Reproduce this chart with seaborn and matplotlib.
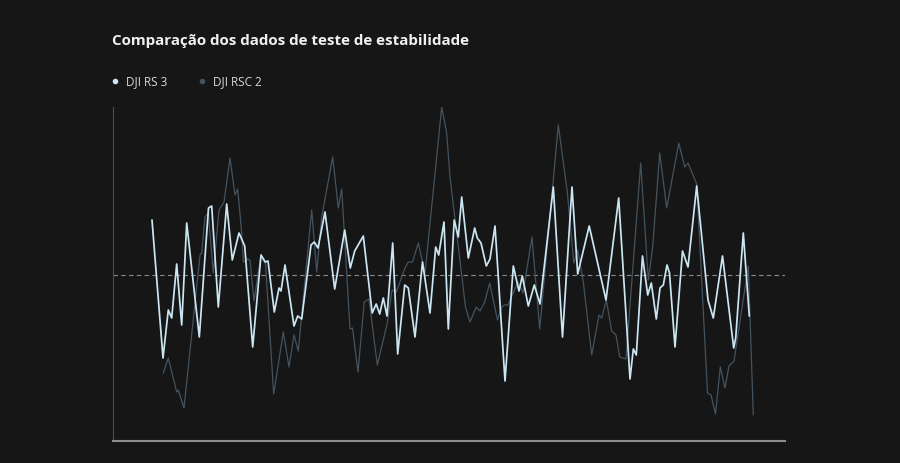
import matplotlib
matplotlib.use("Agg")
import matplotlib.pyplot as plt
import seaborn as sns
import pandas as pd
from matplotlib.lines import Line2D

# ---- data (time in s, deviation in arbitrary units) ----
rs3_t = [0.0, 1.1, 1.63, 1.97, 2.47, 2.97, 3.47, 4.73, 5.65, 5.97, 6.63, 7.47, 8.03, 8.7, 9.27,
         10.07, 10.9, 11.33, 11.6, 12.23, 12.7, 12.9, 13.3, 14.2, 14.57, 14.97, 15.9, 16.23, 16.6,
         17.3, 18.27, 19.27, 19.83, 20.27, 21.13, 22.02, 22.42, 22.77, 23.13, 23.5, 24.07, 24.57,
         25.27, 25.63, 26.3, 27.05, 27.8, 28.37, 28.67, 29.2, 29.63, 30.22, 30.63, 30.97, 31.63,
         32.27, 32.53, 32.9, 33.43, 33.8, 34.3, 35.3, 36.13, 36.7, 37.03, 37.63, 38.23, 38.8,
         40.13, 41.05, 42.0, 42.57, 43.72, 45.4, 46.67, 47.8, 48.13, 48.43, 49.05, 49.57, 49.93,
         50.43, 50.8, 51.13, 51.5, 51.75, 52.3, 53.05, 53.6, 54.47, 55.6, 56.13, 57.05, 58.17,
         58.37, 59.13, 59.73]
rs3_v = [5.5, -8.3, -3.5, -4.3, 1.1, -5.0, 5.2, -6.2, 6.7, 6.9, -3.2, 7.1, 1.5, 4.2, 2.9,
         -7.2, 2.0, 1.3, 1.4, -3.7, -1.3, -1.6, 1.0, -5.1, -4.1, -4.4, 3.0, 3.3, 2.7,
         6.3, -1.4, 4.5, 0.7, 2.4, 3.9, -3.8, -2.9, -3.9, -2.3, -4.1, 3.2, -7.9,
         -1.0, -1.3, -6.2, 1.3, -3.8, 2.8, 2.0, 5.3, -5.4, 5.5, 3.8, 7.8, 1.7,
         4.7, 3.7, 3.2, 0.9, 1.6, 4.9, -10.6, 0.9, -1.6, -0.1, -3.1, -1.0, -2.9,
         8.8, -6.2, 8.8, 0.1, 4.9, -2.5, 7.7, -10.4, -7.4, -8.0, 1.9, -2.0, -0.8,
         -4.4, -1.3, -1.0, 1.0, 0.2, -7.2, 2.4, 0.8, 8.9, -2.5, -4.3, 1.9, -7.3,
         -6.3, 4.2, -4.1]

rsc2_t = [1.13, 1.63, 2.47, 2.63, 3.2, 4.8, 4.97, 5.3, 5.63, 6.13, 6.7, 7.2, 7.8, 8.3, 8.57,
          8.97, 9.13, 9.57, 9.8, 10.2, 10.9, 11.35, 12.17, 13.13, 13.7, 14.2, 14.63, 15.97,
          16.47, 16.97, 18.07, 18.63, 18.97, 19.8, 20.05, 20.6, 21.22, 21.7, 22.53, 23.53,
          24.0, 24.43, 25.3, 25.63, 26.05, 26.63, 27.3, 28.97, 29.47, 29.8, 31.35, 31.8,
          32.43, 32.8, 33.27, 33.77, 34.55, 34.97, 35.23, 35.6, 36.6, 37.1, 38.0, 38.77,
          40.63, 41.53, 42.18, 42.58, 43.13, 43.97, 44.7, 44.97, 45.43, 45.97, 46.4, 46.77,
          47.4, 48.87, 49.63, 50.07, 50.77, 51.47, 52.68, 53.27, 53.6, 54.47, 55.55, 55.9,
          56.35, 56.83, 57.3, 57.7, 58.2, 59.63, 60.13]
rsc2_v = [-9.8, -8.3, -11.7, -11.5, -13.3, 2.0, 2.2, 5.8, 6.2, 0.2, 6.5, 7.3, 11.7, 8.0, 8.6,
          4.2, 1.3, 1.6, 1.5, -2.6, 1.9, 1.1, -11.9, -5.7, -9.2, -6.0, -7.6, 6.5,
          0.3, 5.8, 11.8, 6.7, 8.6, -5.4, -5.3, -9.7, -2.7, -2.4, -9.0, -4.8,
          -1.5, -1.7, 0.7, 1.3, 1.3, 3.2, 0.2, 16.8, 14.2, 9.8, -3.2, -4.7,
          -3.2, -3.6, -2.7, -0.8, -4.5, -3.2, -3.0, -3.0, -0.7, -1.8, 3.8, -5.4,
          15.0, 8.3, 1.2, 2.5, -0.7, -8.0, -4.0, -4.3, -2.5, -5.6, -6.0, -8.2,
          -8.4, 11.2, -0.5, 2.8, 12.2, 6.7, 13.2, 10.8, 11.2, 9.1, -11.8, -12.0,
          -13.9, -9.2, -11.3, -9.1, -8.6, 0.9, -14.0]

series_names = ["DJI RS 3", "DJI RSC 2"]
title_text = "Comparação dos dados de teste de estabilidade"
baseline = 0.0

# ---- styling ----
BG = "#161616"
C_RS3 = "#cbe6f3"
C_RSC2 = "#44535e"

sns.set_theme(style="dark")
plt.rcParams["font.family"] = ["Open Sans", "DejaVu Sans"]

W, H = 900, 463
fig = plt.figure(figsize=(W / 100, H / 100), dpi=100, facecolor=BG)
ax = fig.add_axes([113 / W, (H - 441) / H, (785 - 113) / W, (441 - 107) / H])
ax.set_facecolor(BG)

df_rsc2 = pd.DataFrame({"t": rsc2_t, "v": rsc2_v})
df_rs3 = pd.DataFrame({"t": rs3_t, "v": rs3_v})

sns.lineplot(data=df_rsc2, x="t", y="v", ax=ax, color=C_RSC2, linewidth=0.9,
             sort=False, estimator=None)
sns.lineplot(data=df_rs3, x="t", y="v", ax=ax, color=C_RS3, linewidth=1.25,
             sort=False, estimator=None)

ax.axhline(baseline, color="#8a8a8a", linewidth=0.8, linestyle=(0, (4, 3)), zorder=1)

ax.set_xlim(-3.9, 63.3)
ax.set_ylim(-16.6, 16.8)
ax.set_xticks([])
ax.set_yticks([])
ax.set_xlabel("")
ax.set_ylabel("")
ax.grid(False)
for s in ["top", "right"]:
    ax.spines[s].set_visible(False)
ax.spines["left"].set_color("#4d4d4d")
ax.spines["left"].set_linewidth(0.8)
ax.spines["bottom"].set_color("#8c8c8c")
ax.spines["bottom"].set_linewidth(1.5)

fig.text(112 / W, 1 - 41 / H, title_text, color="#f0f0f0", fontsize=10.9,
         fontweight="bold", va="center", ha="left")

handles = [Line2D([], [], marker="o", linestyle="none", markersize=3, color=C_RS3),
           Line2D([], [], marker="o", linestyle="none", markersize=3, color=C_RSC2)]
leg = fig.legend(handles, series_names, loc="center left",
                 bbox_to_anchor=(101 / W, 1 - 82 / H), ncol=2, frameon=False,
                 fontsize=8.5, handlelength=0.6, handletextpad=0.6,
                 columnspacing=2.7, labelcolor="#d8d8d8")

fig.savefig("out.png", dpi=100, facecolor=BG)
